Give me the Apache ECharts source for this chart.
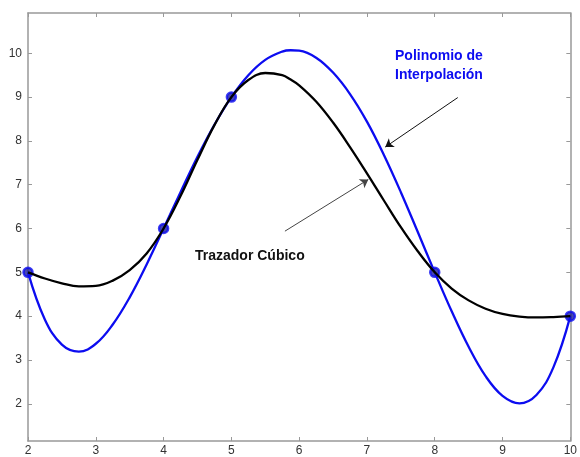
<!DOCTYPE html>
<html>
<head>
<meta charset="utf-8">
<script src="https://cdn.jsdelivr.net/npm/echarts@6/dist/echarts.min.js"></script>
<style>
  html, body { margin: 0; padding: 0; background: #fff; }
  #chart { width: 580px; height: 457px; }
</style>
</head>
<body>
<div id="chart"></div>
<script>
// valores
var xs = [2, 2.25, 2.5, 2.75, 3, 3.25, 3.5, 3.75, 4, 4.25, 4.5, 4.75, 5, 5.25, 5.5, 5.75, 5.875, 6,
          6.25, 6.5, 6.75, 7, 7.25, 7.5, 7.75, 8, 8.25, 8.5, 8.75, 9, 9.25, 9.5, 9.75, 10];
var polinomio = [5, 3.92, 3.35, 3.19, 3.37, 3.81, 4.43, 5.18, 6, 6.83, 7.64, 8.37, 9, 9.50, 9.85, 10.04, 10.07, 10.06,
                 9.90, 9.56, 9.07, 8.44, 7.68, 6.83, 5.92, 5, 4.11, 3.30, 2.63, 2.18, 2.01, 2.20, 2.83, 4];
var trazador = [5, 4.86, 4.75, 4.68, 4.69, 4.81, 5.05, 5.43, 6, 6.74, 7.57, 8.36, 9, 9.39, 9.55, 9.50, 9.40, 9.27,
                8.90, 8.42, 7.86, 7.26, 6.64, 6.03, 5.48, 5, 4.63, 4.36, 4.17, 4.05, 3.99, 3.97, 3.98, 4];
var nodosX = [2, 4, 5, 8, 10];
var nodosY = [5, 6, 9, 5, 4];
var ticksX = [2, 3, 4, 5, 6, 7, 8, 9, 10];
var ticksY = [2, 3, 4, 5, 6, 7, 8, 9, 10];

function pares(a, b) {
  return a.map(function (v, i) { return [v, b[i]]; });
}

var myChart = echarts.init(document.getElementById('chart'));

var gris = '#999';
var ejeGris = { lineStyle: { color: gris, width: 1.5 } };
var etiqueta = { color: '#333', fontSize: 12, fontFamily: 'Liberation Sans, Arial, sans-serif' };

var option = {
  animation: false,
  grid: { left: 28, right: 7, top: 13, bottom: 15 },
  xAxis: [{
    type: 'value', min: 2, max: 10, position: 'bottom',
    axisLine: ejeGris,
    axisTick: { inside: true, length: 4, lineStyle: { color: gris }, customValues: ticksX },
    axisLabel: Object.assign({ margin: 4, customValues: ticksX }, etiqueta),
    splitLine: { show: false }
  }, {
    type: 'value', min: 2, max: 10, position: 'top',
    axisLine: ejeGris,
    axisTick: { inside: true, length: 4, lineStyle: { color: gris }, customValues: ticksX },
    axisLabel: { show: false },
    splitLine: { show: false }
  }],
  yAxis: [{
    type: 'value', min: 1.15, max: 10.92, position: 'left',
    axisLine: { show: true, lineStyle: { color: gris, width: 1.5 } },
    axisTick: { show: true, inside: true, length: 4, lineStyle: { color: gris }, customValues: ticksY },
    axisLabel: Object.assign({ margin: 6, customValues: ticksY }, etiqueta),
    splitLine: { show: false }
  }, {
    type: 'value', min: 1.15, max: 10.92, position: 'right',
    axisLine: { show: true, lineStyle: { color: gris, width: 1.5 } },
    axisTick: { show: true, inside: true, length: 4, lineStyle: { color: gris }, customValues: ticksY },
    axisLabel: { show: false },
    splitLine: { show: false }
  }],
  series: [{
    name: 'Polinomio de Interpolación',
    type: 'line',
    data: pares(xs, polinomio),
    smooth: 0.4,
    showSymbol: false,
    lineStyle: { color: '#0c0cf0', width: 2.3 },
    markLine: {
      silent: true,
      symbol: ['none', 'arrow'],
      symbolSize: 8,
      label: { show: false },
      lineStyle: { color: '#111', width: 1, type: 'solid' },
      data: [[{ coord: [8.34, 8.99] }, { coord: [7.27, 7.86] }]]
    }
  }, {
    name: 'Trazador Cúbico',
    type: 'line',
    data: pares(xs, trazador),
    smooth: 0.4,
    showSymbol: false,
    lineStyle: { color: '#000', width: 2.3 },
    markLine: {
      silent: true,
      symbol: ['none', 'arrow'],
      symbolSize: 8,
      label: { show: false },
      lineStyle: { color: '#444', width: 1, type: 'solid' },
      data: [[{ coord: [5.79, 5.94] }, { coord: [7.02, 7.12] }]]
    }
  }, {
    name: 'nodos',
    type: 'scatter',
    data: pares(nodosX, nodosY),
    symbol: 'circle',
    symbolSize: 9,
    itemStyle: { color: '#1a1a9a', borderColor: '#0c0cf0', borderWidth: 2.5 }
  }],
  graphic: [{
    type: 'text', left: 395, top: 47,
    style: {
      text: 'Polinomio de\nInterpolación', fill: '#0c0cf0', lineHeight: 19,
      font: 'bold 14px Liberation Sans, Arial, sans-serif'
    }
  }, {
    type: 'text', left: 195, top: 249,
    style: {
      text: 'Trazador Cúbico', fill: '#111',
      font: 'bold 14px Liberation Sans, Arial, sans-serif'
    }
  }]
};

myChart.setOption(option);
</script>
</body>
</html>
